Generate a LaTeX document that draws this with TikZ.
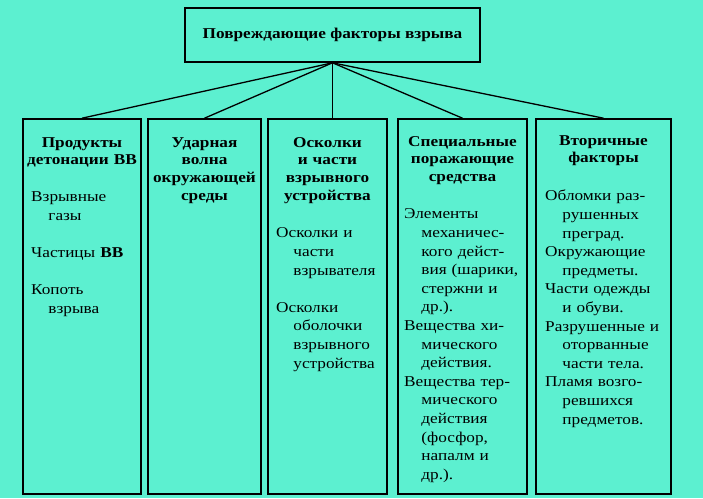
\documentclass[tikz,border=0pt]{standalone}
\usepackage{fontspec}
\setmainfont{Liberation Serif}[FakeStretch=1.15]
\definecolor{mint}{RGB}{92,240,208}
\newcommand\itm{\par\noindent}
\newcommand\brk{\newline\hspace*{1.15em}}

\begin{document}
\begin{tikzpicture}[x=1pt, y=-1pt,
    every node/.style={
      font=\fontsize{15}{18.6}\selectfont,
    },
    box/.style={
      draw, line width=1.6pt, inner sep=0pt, minimum height=375pt
    },
    head/.style={
      font=\bfseries\fontsize{15}{17.7}\selectfont,
      align=center, text width=#1, inner sep=0pt, anchor=base
    },
    items/.style={
      align=left, text width=135pt, inner sep=0pt, anchor=north west
    },
    link/.style={line width=1.3pt}
    ]
  \fill[mint] (0,0) rectangle (703,498);

  \node[box, minimum width=295pt, minimum height=54pt,
    font=\bfseries\fontsize{15}{18}\selectfont] (top) at (332.5,35)
    {Повреждающие факторы взрыва};

  \node[box, minimum width=118pt] (b1) at (82,306.5) {};
  \node[box, minimum width=113pt] (b2) at (204.5,306.5) {};
  \node[box, minimum width=119pt] (b3) at (327.5,306.5) {};
  \node[box, minimum width=129pt] (b4) at (462.5,306.5) {};
  \node[box, minimum width=135pt] (b5) at (603.5,306.5) {};

  \draw[link] (top.south) -- (b1.north);
  \draw[link] (top.south) -- (b2.north);
  \draw[link] (top.south) -- (top.south |- b3.north);
  \draw[link] (top.south) -- (b4.north);
  \draw[link] (top.south) -- (b5.north);

  % headings
  \node[head=116pt] (h1) at (82,147) {Продукты\\ детонации ВВ};
  \node[head=111pt] (h2) at (204.5,147) {Ударная\\ волна\\ окружающей\\ среды};
  \node[head=117pt] (h3) at (327.5,147) {Осколки\\ и части\\ взрывного\\ устройства};
  \node[head=127pt] (h4) at (462.5,146) {Специальные\\ поражающие\\ средства};
  \node[head=133pt] (h5) at (603.5,145) {Вторичные\\ факторы};

  % contents
  \node[items] (i1) at (31,183) {%
    \itm Взрывные\brk газы
    \par\vspace{18.6pt}
    \itm Частицы \textbf{ВВ}
    \par\vspace{18.6pt}
    \itm Копоть\brk взрыва};
  \node[items] (i3) at (276,219) {%
    \itm Осколки и\brk части\brk взрывателя
    \par\vspace{18.6pt}
    \itm Осколки\brk оболочки\brk взрывного\brk устройства};
  \node[items] (i4) at (404,200) {%
    \itm Элементы\brk механичес-\brk кого дейст-\brk вия (шарики,\brk стержни и\brk др.).
    \itm Вещества хи-\brk мического\brk действия.
    \itm Вещества тер-\brk мического\brk действия\brk (фосфор,\brk напалм и\brk др.).};
  \node[items] (i5) at (545,182) {%
    \itm Обломки раз-\brk рушенных\brk преград.
    \itm Окружающие\brk предметы.
    \itm Части одежды\brk и обуви.
    \itm Разрушенные и\brk оторванные\brk части тела.
    \itm Пламя возго-\brk ревшихся\brk предметов.};
\end{tikzpicture}
\end{document}
